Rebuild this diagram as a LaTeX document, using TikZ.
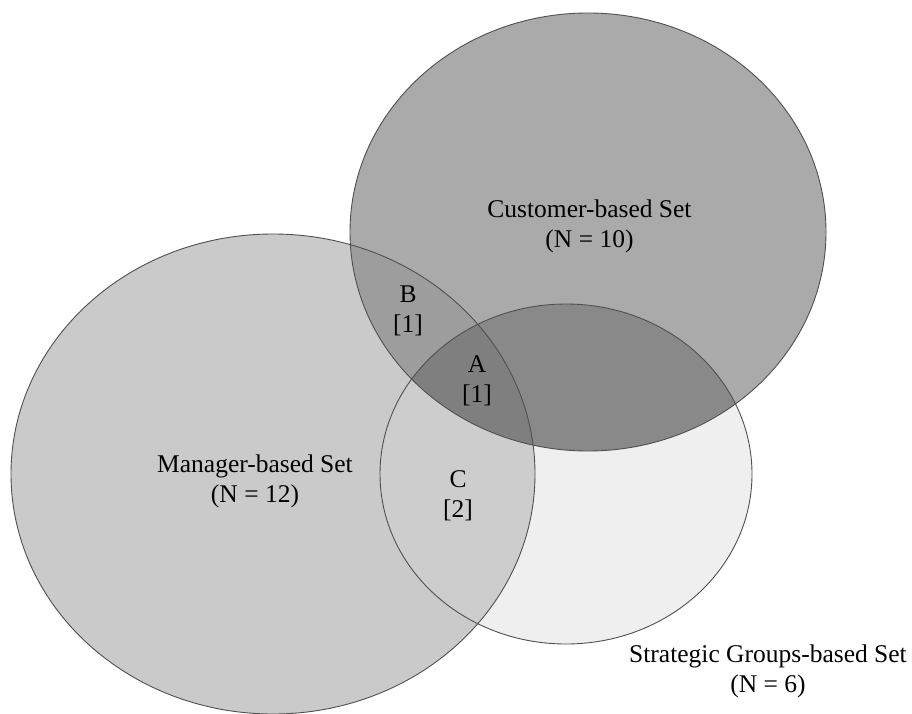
\documentclass[tikz,border=0pt]{standalone}
\usepackage{fontspec}
\setmainfont{Liberation Serif}
\definecolor{manfill}{HTML}{CACACA}
\definecolor{custfill}{HTML}{AAAAAA}
\definecolor{stratfill}{HTML}{EFEFEF}
\definecolor{bfill}{HTML}{9D9D9D}
\definecolor{cfill}{HTML}{CDCDCD}
\definecolor{csfill}{HTML}{898989}
\definecolor{afill}{HTML}{7F7F7F}
\definecolor{edge}{HTML}{505050}
\begin{document}
\begin{tikzpicture}[x=1pt,y=-1pt,
  lbl/.style={font=\fontsize{25.5}{30}\selectfont, align=center, inner sep=0pt, text=black},
  outline/.style={draw=edge, line width=0.9pt}]
\useasboundingbox (0,0) rectangle (912,714);
% base fills
\fill[manfill] (273,474) ellipse [x radius=262pt, y radius=240pt];
\fill[custfill] (588,232) ellipse [x radius=238pt, y radius=219pt];
\fill[stratfill] (566,474) ellipse [x radius=186pt, y radius=170pt];
% manager & customer
\begin{scope}
  \clip (273,474) ellipse [x radius=262pt, y radius=240pt];
  \fill[bfill] (588,232) ellipse [x radius=238pt, y radius=219pt];
  \fill[cfill] (566,474) ellipse [x radius=186pt, y radius=170pt];
\end{scope}
% customer & strategic
\begin{scope}
  \clip (588,232) ellipse [x radius=238pt, y radius=219pt];
  \fill[csfill] (566,474) ellipse [x radius=186pt, y radius=170pt];
\end{scope}
% all three
\begin{scope}
  \clip (273,474) ellipse [x radius=262pt, y radius=240pt];
  \clip (588,232) ellipse [x radius=238pt, y radius=219pt];
  \fill[afill] (566,474) ellipse [x radius=186pt, y radius=170pt];
\end{scope}
% outlines
\path[outline] (273,474) ellipse [x radius=262pt, y radius=240pt];
\path[outline] (588,232) ellipse [x radius=238pt, y radius=219pt];
\path[outline] (566,474) ellipse [x radius=186pt, y radius=170pt];
% labels
\node[lbl] (cust) at (589.5,226) {Customer-based Set\\(N = 10)};
\node[lbl] (man) at (255,481) {Manager-based Set\\(N = 12)};
\node[lbl] (strat) at (768,671) {Strategic Groups-based Set\\(N = 6)};
\node[lbl] (b) at (408,311) {B\\{[1]}};
\node[lbl] (a) at (477,381) {A\\{[1]}};
\node[lbl] (c) at (458,496) {C\\{[2]}};
\end{tikzpicture}
\end{document}
